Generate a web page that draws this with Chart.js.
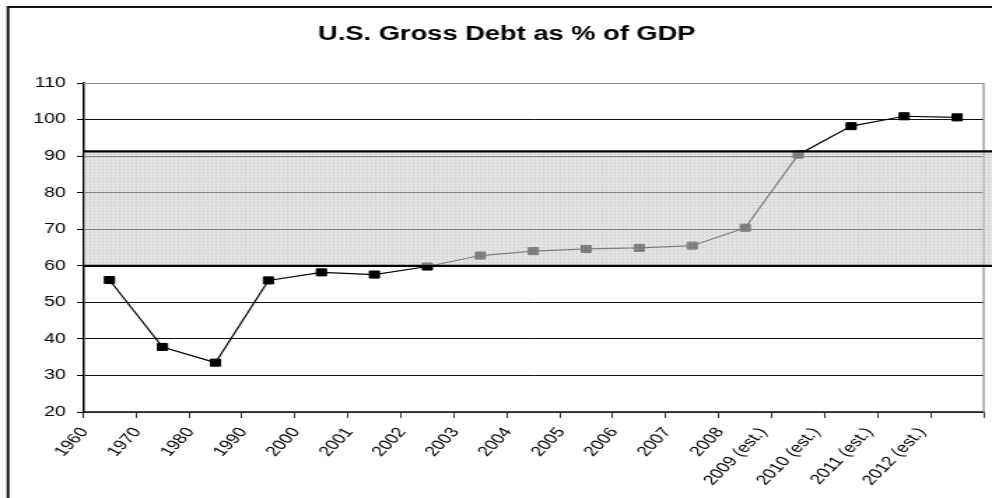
<!DOCTYPE html>
<html><head><meta charset="utf-8">
<script src="https://cdn.jsdelivr.net/npm/chart.js@4/dist/chart.umd.min.js"></script>
<style>html,body{margin:0;padding:0;background:#fff;overflow:hidden}</style>
</head><body>
<canvas id="c" width="709" height="498" style="display:block;width:992px;height:498px"></canvas>
<script>
// ---- data ----
const categories = ['1960','1970','1980','1990','2000','2001','2002','2003','2004','2005','2006','2007','2008','2009 (est.)','2010 (est.)','2011 (est.)','2012 (est.)'];
const debtPctOfGdp = [56.1, 37.8, 33.5, 56.0, 58.2, 57.6, 59.8, 62.8, 64.0, 64.6, 64.9, 65.5, 70.4, 90.4, 98.2, 100.9, 100.6];
const shadedBand = [60, 91.3];
const yTicks = {min: 20, max: 110, step: 10};
const chartTitle = 'U.S. Gross Debt as % of GDP';

// the original picture is stretched horizontally; draw narrower and stretch the canvas
const SX = 992 / 709;
const FONT = "'Liberation Sans', Arial, sans-serif";
const isEstimate = (l) => l.indexOf('(est.)') >= 0;

function makePattern(ctx) {
  const t = document.createElement('canvas');
  t.width = 3; t.height = 3;
  const c = t.getContext('2d');
  c.fillStyle = 'rgba(208,208,208,0.62)'; c.fillRect(0,0,3,3);
  c.clearRect(1,1,1,1);
  c.fillStyle = 'rgba(170,170,170,0.62)'; c.fillRect(1,1,1,1);
  return ctx.createPattern(t, 'repeat');
}

const framePlugin = {
  id: 'frame',
  beforeDraw(chart) {
    const ctx = chart.ctx;
    ctx.save();
    ctx.strokeStyle = '#111';
    ctx.lineWidth = 2;
    ctx.strokeRect(8 / SX, 7, 2000, 2000);
    ctx.restore();
  }
};

const plotBorderPlugin = {
  id: 'plotBorder',
  beforeDatasetsDraw(chart) {
    const {ctx, chartArea: a} = chart;
    ctx.save();
    ctx.strokeStyle = '#8a8a8a';
    ctx.lineWidth = 1.2;
    ctx.beginPath();
    ctx.moveTo(a.left, a.top + 0.5);
    ctx.lineTo(a.right, a.top + 0.5);
    ctx.lineTo(a.right, a.bottom);
    ctx.stroke();
    ctx.restore();
  }
};

const bandPlugin = {
  id: 'band',
  afterDatasetsDraw(chart) {
    const {ctx, chartArea: a, scales} = chart;
    const y = scales.y;
    const yTop = y.getPixelForValue(shadedBand[1]);
    const yBot = y.getPixelForValue(shadedBand[0]);
    const left = a.left + 0.8;
    const right = chart.width;
    ctx.save();
    ctx.fillStyle = makePattern(ctx);
    ctx.fillRect(left, yTop, right - left, yBot - yTop);
    ctx.strokeStyle = '#000';
    ctx.lineWidth = 2.2;
    ctx.beginPath();
    ctx.moveTo(a.left, yTop); ctx.lineTo(right, yTop);
    ctx.moveTo(a.left, yBot); ctx.lineTo(right, yBot);
    ctx.stroke();
    ctx.restore();
  }
};

const xTickBase = {
  color: '#000',
  font: {family: FONT, size: 14},
  minRotation: 54, maxRotation: 54,
  autoSkip: false
};

new Chart(document.getElementById('c'), {
  type: 'line',
  data: {
    labels: categories,
    datasets: [{
      data: debtPctOfGdp,
      xAxisID: 'x',
      borderColor: '#000',
      borderWidth: 1.2,
      pointStyle: 'rect',
      pointRadius: 5,
      pointBackgroundColor: '#000',
      pointBorderColor: '#000',
      pointBorderWidth: 1,
      tension: 0,
      clip: false
    }]
  },
  options: {
    responsive: false,
    animation: false,
    devicePixelRatio: 1,
    layout: {padding: {left: 19, right: 3.6, top: 0, bottom: 0}},
    plugins: {
      legend: {display: false},
      tooltip: {enabled: false},
      title: {
        display: true,
        text: chartTitle,
        color: '#000',
        font: {family: FONT, size: 19.5, weight: 'bold'},
        padding: {top: 23.3, bottom: 36.3}
      }
    },
    scales: {
      x: {
        type: 'category',
        offset: true,
        weight: 0,
        grid: {offset: true, drawOnChartArea: false, drawTicks: true, tickLength: 6, color: '#333', lineWidth: 1},
        border: {color: '#444', width: 1.6},
        ticks: Object.assign({}, xTickBase, {
          labelOffset: -17.9,
          padding: 6.6,
          callback(value) { const l = this.getLabelForValue(value); return isEstimate(l) ? '' : l; }
        }),
        afterFit(scale) { scale.height = 86; scale.paddingLeft = 0; scale.paddingRight = 0; }
      },
      // same categories; carries the "(est.)" labels, which sit a little further left in the original
      xEst: {
        type: 'category',
        position: 'bottom',
        offset: true,
        weight: 1,
        grid: {display: false, drawTicks: false, drawOnChartArea: false},
        border: {display: false},
        ticks: Object.assign({}, xTickBase, {
          mirror: true,
          labelOffset: -11.5,
          padding: 63.6,
          callback(value) { const l = this.getLabelForValue(value); return isEstimate(l) ? l : ''; }
        }),
        afterFit(scale) { scale.height = 0; scale.paddingLeft = 0; scale.paddingRight = 0; }
      },
      y: {
        min: yTicks.min, max: yTicks.max,
        grid: {color: '#111', lineWidth: 1, tickLength: 4.3, tickColor: '#000'},
        border: {color: '#000', width: 1.5},
        ticks: {
          stepSize: yTicks.step,
          color: '#000',
          font: {family: FONT, size: 14},
          padding: 8
        },
        afterFit(scale) { scale.width = 83 / SX - 19; }
      }
    }
  },
  plugins: [framePlugin, plotBorderPlugin, bandPlugin]
});
</script>
</body></html>
